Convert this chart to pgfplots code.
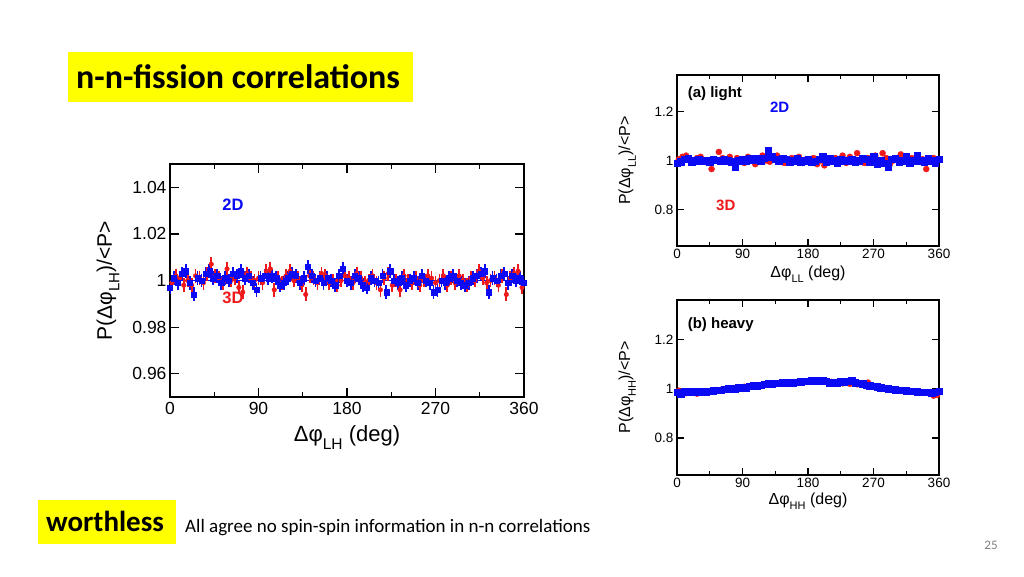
\documentclass[border=0pt]{standalone}
\usepackage{pgfplots}
\pgfplotsset{compat=1.18}
\usepackage{fontspec}
\setmainfont{Liberation Sans}
\newfontfamily\calibri{Carlito}

\definecolor{ptblue}{RGB}{10,10,245}
\definecolor{ptred}{RGB}{240,25,25}
\definecolor{slideyellow}{RGB}{255,255,0}

% lowered subscript, size given in pt
\newcommand{\lsub}[2]{\raisebox{-0.35em}{\fontsize{#1}{#1}\selectfont #2}}

\pgfplotsset{
  phiplot/.style={
    scale only axis,
    xmin=0, xmax=360,
    xtick={0,90,180,270,360},
    minor xtick={45,135,225,315},
    tick align=inside, tick pos=both,
    axis line style={line width=1.5pt},
    tick style={black, line width=1.2pt},
    major tick length=9pt, minor tick length=5pt,
    /pgf/number format/assume math mode=true,
  },
  redpts/.style={only marks, mark=*, color=ptred,
    error bars/y dir=both, error bars/error mark=none},
  bluepts/.style={only marks, mark=square*, color=ptblue,
    error bars/y dir=both, error bars/error mark=none},
}

\pgfplotstableread{
x y
0 0.997
4 1.001
8 0.999
12 1.003
16 1.004
20 0.999
24 0.994
28 1.001
32 1.000
36 1.003
40 1.004
44 1.001
48 1.002
52 0.999
56 1.001
60 1.000
64 1.003
68 1.002
72 1.004
76 1.001
80 1.002
84 0.999
88 0.996
92 1.001
96 1.002
100 1.001
104 1.002
108 1.001
112 0.998
116 0.999
120 1.001
124 1.003
128 1.002
132 0.999
136 1.001
140 1.006
144 1.002
148 1.000
152 1.001
156 0.999
160 1.001
164 1.000
168 0.998
172 1.002
176 1.005
180 1.000
184 0.999
188 1.002
192 1.001
196 0.998
200 0.997
204 1.001
208 1.000
212 0.999
216 1.002
220 0.995
224 1.004
228 1.000
232 0.999
236 1.001
240 0.998
244 1.000
248 1.001
252 0.999
256 1.002
260 1.000
264 0.999
268 0.995
272 0.996
276 1.000
280 0.999
284 1.001
288 1.002
292 1.000
296 0.999
300 0.998
304 0.999
308 1.001
312 1.002
316 1.003
320 1.004
324 0.995
328 1.001
332 1.000
336 1.002
340 1.003
344 0.999
348 1.002
352 1.000
356 1.001
360 0.999
}\lhblue

\pgfplotstableread{
x y
2 0.999
6 1.002
10 1.001
14 0.998
18 1.000
22 0.998
26 1.002
30 1.001
34 0.999
38 1.003
42 1.007
46 1.002
50 1.001
54 0.999
58 1.005
62 1.000
66 1.001
70 0.997
74 0.995
78 1.003
82 1.001
86 1.000
90 1.001
94 0.999
98 1.004
102 1.005
106 0.996
110 1.001
114 0.999
118 1.002
122 1.004
126 1.000
130 1.001
134 0.998
138 0.994
142 1.002
146 1.001
150 0.999
154 1.003
158 1.002
162 0.999
166 1.000
170 0.998
174 1.000
178 1.002
182 1.001
186 0.999
190 1.003
194 1.001
198 0.999
202 1.000
206 1.002
210 0.999
214 0.996
218 1.001
222 1.003
226 0.998
230 1.000
234 0.996
238 1.002
242 1.000
246 0.999
250 1.001
254 0.998
258 1.000
262 1.002
266 1.001
270 0.999
274 1.000
278 1.002
282 0.998
286 1.001
290 0.999
294 1.002
298 1.000
302 0.998
306 1.001
310 1.000
314 1.004
318 1.001
322 0.999
326 1.000
330 1.001
334 0.998
338 1.002
342 0.994
346 1.001
350 1.003
354 1.004
358 0.997
}\lhred

\pgfplotstableread{
x y
0 0.990
5 0.995
10 1.005
15 1.010
20 0.995
25 1.000
30 1.005
35 0.998
40 1.000
45 0.995
50 1.005
55 1.002
60 0.998
65 1.005
70 1.000
75 0.995
80 0.975
85 1.000
90 1.005
95 0.998
100 1.010
105 1.002
110 1.008
115 1.000
120 1.010
125 1.040
130 1.015
135 1.005
140 1.000
145 1.010
150 1.005
155 0.995
160 1.000
165 1.008
170 0.995
175 1.000
180 1.005
185 0.995
190 0.998
195 1.005
200 1.015
205 0.995
210 1.010
215 1.000
220 0.990
225 1.005
230 1.000
235 0.998
240 1.005
245 0.995
250 1.000
255 1.010
260 1.005
265 0.995
270 1.015
275 0.985
280 1.000
285 0.990
290 0.975
295 1.005
300 1.010
305 0.995
310 1.000
315 1.015
320 0.990
325 1.000
330 1.020
335 1.000
340 0.995
345 1.010
350 1.000
355 0.990
360 1.005
}\llblue

\pgfplotstableread{
x y
2.5 1.005
7.5 1.015
12.5 1.020
17.5 1.000
22.5 0.995
27.5 1.010
32.5 1.015
37.5 1.000
42.5 0.990
47.5 0.965
52.5 1.000
57.5 1.035
62.5 1.010
67.5 1.000
72.5 1.015
77.5 0.995
82.5 1.010
87.5 1.000
92.5 0.990
97.5 1.015
102.5 1.000
107.5 0.985
112.5 1.010
117.5 1.020
122.5 1.000
127.5 0.995
132.5 1.010
137.5 1.020
142.5 1.000
147.5 0.990
152.5 1.005
157.5 1.010
162.5 1.000
167.5 1.015
172.5 0.990
177.5 1.005
182.5 1.000
187.5 1.010
192.5 0.985
197.5 1.000
202.5 0.980
207.5 1.005
212.5 0.995
217.5 1.010
222.5 1.000
227.5 1.020
232.5 0.990
237.5 1.015
242.5 1.000
247.5 1.030
252.5 1.005
257.5 0.990
262.5 1.010
267.5 1.000
272.5 1.020
277.5 0.995
282.5 1.030
287.5 1.010
292.5 0.985
297.5 1.000
302.5 1.010
307.5 1.025
312.5 1.000
317.5 0.990
322.5 1.010
327.5 1.000
332.5 0.995
337.5 1.005
342.5 0.965
347.5 1.000
352.5 1.010
357.5 1.005
}\llred

\pgfplotstableread{
x y
0 0.985
5 0.980
10 0.988
15 0.985
20 0.990
25 0.985
30 0.988
35 0.985
40 0.988
45 0.990
50 0.992
55 0.995
60 0.993
65 0.997
70 1.000
75 1.002
80 1.000
85 1.005
90 1.006
95 1.005
100 1.010
105 1.012
110 1.010
115 1.015
120 1.018
125 1.020
130 1.018
135 1.022
140 1.022
145 1.025
150 1.023
155 1.026
160 1.025
165 1.027
170 1.028
175 1.030
180 1.030
185 1.035
190 1.030
195 1.033
200 1.032
205 1.030
210 1.025
215 1.027
220 1.025
225 1.028
230 1.026
235 1.030
240 1.035
245 1.025
250 1.022
255 1.020
260 1.015
265 1.012
270 1.010
275 1.008
280 1.005
285 1.002
290 1.000
295 0.998
300 0.996
305 0.995
310 0.993
315 0.992
320 0.990
325 0.990
330 0.988
335 0.987
340 0.986
345 0.985
350 0.983
355 0.985
360 0.990
}\hhblue

\pgfplotstableread{
x y
2.5 0.992
7.5 0.985
12.5 0.982
17.5 0.988
22.5 0.986
27.5 0.980
32.5 0.984
37.5 0.988
42.5 0.990
47.5 0.992
52.5 0.995
57.5 0.994
62.5 0.998
67.5 1.000
72.5 0.998
77.5 1.003
82.5 1.005
87.5 1.004
92.5 1.008
97.5 1.010
102.5 1.008
107.5 1.012
112.5 1.015
117.5 1.016
122.5 1.018
127.5 1.020
132.5 1.022
137.5 1.020
142.5 1.024
147.5 1.026
152.5 1.024
157.5 1.027
162.5 1.026
167.5 1.030
172.5 1.028
177.5 1.031
182.5 1.029
187.5 1.032
192.5 1.030
197.5 1.028
202.5 1.030
207.5 1.026
212.5 1.028
217.5 1.024
222.5 1.026
227.5 1.022
232.5 1.024
237.5 1.020
242.5 1.022
247.5 1.018
252.5 1.020
257.5 1.015
262.5 1.025
267.5 1.012
272.5 1.008
277.5 1.006
282.5 1.003
287.5 1.000
292.5 0.998
297.5 0.995
302.5 0.994
307.5 0.992
312.5 0.990
317.5 0.991
322.5 0.988
327.5 0.986
332.5 0.987
337.5 0.984
342.5 0.985
347.5 0.980
352.5 0.972
357.5 0.975
}\hhred

\begin{document}
\begin{tikzpicture}
  \fill[white] (0,0) rectangle (1024pt,576pt);

  % slide title and footer
  \fill[slideyellow] (68pt,474pt) rectangle (413pt,524pt);
  \node[anchor=west, inner sep=0pt, font=\calibri\bfseries\fontsize{34}{34}\selectfont]
    at (76pt,499pt) {n-n-fission correlations};
  \fill[slideyellow] (38pt,32pt) rectangle (176pt,76pt);
  \node[anchor=west, inner sep=0pt, font=\calibri\bfseries\fontsize{29}{29}\selectfont]
    at (46pt,55pt) {worthless};
  \node[anchor=west, inner sep=0pt, font=\calibri\fontsize{19}{19}\selectfont]
    at (185pt,48pt) {All agree no spin-spin information in n-n correlations};
  \node[inner sep=0pt, text=gray, font=\calibri\fontsize{13}{13}\selectfont]
    at (991pt,31pt) {25};

  % main plot: light-heavy
  \begin{axis}[phiplot,
    at={(170pt,179pt)}, anchor=south west,
    width=354pt, height=233pt,
    ymin=0.95, ymax=1.05,
    ytick={0.96,0.98,1,1.02,1.04},
    yticklabels={0.96,0.98,1,1.02,1.04},
    tick label style={font=\fontsize{17.5}{17.5}\selectfont},
    xticklabel style={yshift=-2pt},
    xlabel={\fontsize{22}{22}\selectfont Δφ\lsub{15.5}{LH} (deg)},
    ylabel={\fontsize{21}{21}\selectfont P(Δφ\lsub{15}{LH})/<P>},
    xlabel style={at={(axis description cs:0.5,-0.175)}, anchor=center},
    ylabel style={at={(axis description cs:-0.175,0.5)}, anchor=center},
  ]
    \addplot[ptblue, line width=1pt] coordinates {(0,1) (360,1)};
    \addplot[redpts, mark size=2.3pt, error bars/y fixed=0.003,
      error bars/error bar style={line width=1.8pt}] table {\lhred};
    \addplot[bluepts, mark size=2.6pt, error bars/y fixed=0.003,
      error bars/error bar style={line width=1.8pt}] table {\lhblue};
    \node[text=ptblue, font=\bfseries\fontsize{16.5}{16.5}\selectfont] at (axis cs:64,1.0324) {2D};
    \node[text=ptred, font=\bfseries\fontsize{16.5}{16.5}\selectfont] at (axis cs:64,0.9925) {3D};
  \end{axis}

  % (a) light
  \begin{axis}[phiplot,
    at={(677pt,330pt)}, anchor=south west,
    width=262pt, height=171pt,
    ymin=0.65, ymax=1.35,
    ytick={0.8,1,1.2}, yticklabels={0.8,1,1.2},
    axis line style={line width=1.4pt},
    major tick length=7pt, minor tick length=4pt,
    tick label style={font=\fontsize{13.5}{13.5}\selectfont},
    xlabel={\fontsize{16}{16}\selectfont Δφ\lsub{11}{LL} (deg)},
    ylabel={\fontsize{16}{16}\selectfont P(Δφ\lsub{11}{LL})/<P>},
    xlabel style={at={(axis description cs:0.5,-0.165)}, anchor=center},
    ylabel style={at={(axis description cs:-0.19,0.5)}, anchor=center},
  ]
    \addplot[redpts, mark size=3pt, error bars/y fixed=0.008] table {\llred};
    \addplot[bluepts, mark size=3.2pt, error bars/y fixed=0.008] table {\llblue};
    \node[anchor=west, font=\bfseries\fontsize{15}{15}\selectfont] at (axis cs:10,1.272) {(a) light};
    \node[text=ptblue, font=\bfseries\fontsize{15}{15}\selectfont] at (axis cs:141,1.218) {2D};
    \node[text=ptred, font=\bfseries\fontsize{15}{15}\selectfont] at (axis cs:67,0.815) {3D};
  \end{axis}

  % (b) heavy
  \begin{axis}[phiplot,
    at={(677pt,101pt)}, anchor=south west,
    width=262pt, height=175pt,
    ymin=0.65, ymax=1.36,
    ytick={0.8,1,1.2}, yticklabels={0.8,1,1.2},
    axis line style={line width=1.4pt},
    major tick length=7pt, minor tick length=4pt,
    tick label style={font=\fontsize{13.5}{13.5}\selectfont},
    xlabel={\fontsize{16}{16}\selectfont Δφ\lsub{11}{HH} (deg)},
    ylabel={\fontsize{16}{16}\selectfont P(Δφ\lsub{11}{HH})/<P>},
    xlabel style={at={(axis description cs:0.5,-0.15)}, anchor=center},
    ylabel style={at={(axis description cs:-0.19,0.5)}, anchor=center},
  ]
    \addplot[redpts, mark size=3pt, error bars/y fixed=0.008] table {\hhred};
    \addplot[bluepts, mark size=3.2pt, error bars/y fixed=0.008] table {\hhblue};
    \node[anchor=west, font=\bfseries\fontsize{15}{15}\selectfont] at (axis cs:10,1.26) {(b) heavy};
  \end{axis}

  \pgfresetboundingbox
  \path[use as bounding box] (0,0) rectangle (1024pt,576pt);
\end{tikzpicture}
\end{document}
